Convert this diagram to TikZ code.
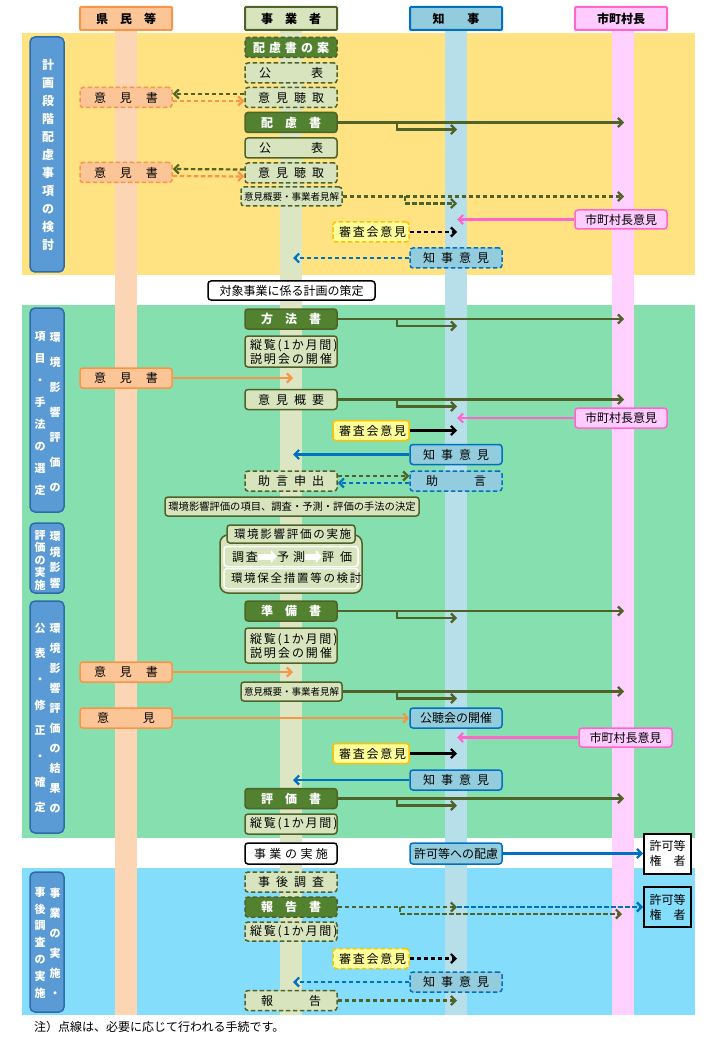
\documentclass[tikz,border=0pt]{standalone}
\usepackage{fontspec}
\setmainfont{Noto Sans CJK JP}
\usetikzlibrary{arrows.meta,calc}
\definecolor{olive}{HTML}{4F6228}
\definecolor{dkgreen}{HTML}{52822F}
\definecolor{ltgreen}{HTML}{D7E4BD}
\definecolor{orfill}{HTML}{FBC598}
\definecolor{orline}{HTML}{F79646}
\definecolor{blfill}{HTML}{93CDDD}
\definecolor{blline}{HTML}{0070C0}
\definecolor{pkfill}{HTML}{FFCCFF}
\definecolor{pkline}{HTML}{FF66CC}
\definecolor{ylfill}{HTML}{FFFF99}
\definecolor{ylline}{HTML}{FFC000}
\definecolor{sidefill}{HTML}{5B9BD5}
\definecolor{sideline}{HTML}{2E6BAA}
\definecolor{yband}{HTML}{FFE383}
\definecolor{gband}{HTML}{86DFAF}
\definecolor{bband}{HTML}{84DDFB}
\definecolor{orlane}{HTML}{FCD5B4}
\definecolor{gnlane}{HTML}{DCE6C2}
\definecolor{bllane}{HTML}{B7DFE9}
\definecolor{pklane}{HTML}{FFD1FF}
\newcommand{\sw}[2]{\makebox[#1][s]{#2}}
\tikzset{box/.style={draw,rounded corners=3pt,line width=1.5pt,inner sep=0pt,minimum width=92pt,minimum height=20pt,align=center,font=\fontsize{12}{14}\selectfont},dkbox/.style={box,fill=dkgreen,draw=olive,text=white,font=\bfseries\fontsize{12}{14}\selectfont},ltbox/.style={box,fill=ltgreen,draw=olive},orbox/.style={box,fill=orfill,draw=orline},blbox/.style={box,fill=blfill,draw=blline},pkbox/.style={box,fill=pkfill,draw=pkline},ylbox/.style={box,fill=ylfill,draw=ylline,minimum width=76pt},wtbox/.style={box,fill=white,draw=black},dsh/.style={dash pattern=on 4.5pt off 2.5pt},hdr/.style={draw,line width=2pt,inner sep=0pt,minimum width=92pt,minimum height=23pt,rounded corners=1pt,font=\bfseries\fontsize{12}{14}\selectfont},side/.style={draw=sideline,fill=sidefill,rounded corners=5pt,line width=1.5pt,minimum width=34pt},vtxt/.style={text=white,align=center,inner sep=0pt},arr/.style={line width=2.2pt,-{Straight Barb[length=4.5pt,width=9pt]}},garr/.style={arr,draw=olive},oarr/.style={arr,draw=orline},barr/.style={arr,draw=blline},parr/.style={arr,draw=pkline},karr/.style={arr,draw=black},warr/.style={draw=white,line width=6pt,-{Triangle[length=6pt,width=13pt]}},kenbox/.style={draw=black,line width=2pt,inner sep=0pt,minimum width=47pt,minimum height=40pt,align=center,font=\fontsize{12}{15}\selectfont}}

\begin{document}
\begin{tikzpicture}[x=1pt,y=-1pt]
\useasboundingbox (0,0) rectangle (720,1040);
% bands and lanes
\fill[yband] (22,33) rectangle (695,275);
\fill[gband] (22,305) rectangle (695,838);
\fill[bband] (22,868) rectangle (695,1015);
\fill[orlane] (115,30) rectangle (137,1015);
\fill[gnlane] (280,30) rectangle (302,1015);
\fill[bllane] (445,30) rectangle (467,1015);
\fill[pklane] (612,30) rectangle (634,1015);
\coordinate (biz) at (293,0);
\coordinate (gov) at (457,0);
\coordinate (city) at (624,0);
\coordinate (br) at (397,0);
% headers
\node[hdr,fill=orfill,draw=orline] (hken) at (126,18.5) {\sw{60pt}{県 民 等}};
\node[hdr,fill=ltgreen,draw=olive] (hjig) at (291,18.5) {\sw{60pt}{事 業 者}};
\node[hdr,fill=blfill,draw=blline] (hchi) at (456,18.5) {\sw{47pt}{知 事}};
\node[hdr,fill=pkfill,draw=pkline] (hshi) at (621,18.5) {市町村長};
% side labels
\node[side,minimum height=235pt] (s1) at (47,154.5) {};
\node[vtxt,font=\bfseries\fontsize{12}{18}\selectfont] (s1a) at (48,155) {計\\画\\段\\階\\配\\慮\\事\\項\\の\\検\\討};
\node[side,minimum height=204pt] (s2) at (47,410) {};
\node[vtxt,font=\bfseries\fontsize{11}{25}\selectfont] (s2a) at (55,412.5) {環\\境\\影\\響\\評\\価\\の};
\node[vtxt,font=\bfseries\fontsize{11}{21.9}\selectfont] (s2b) at (40,413.5) {項\\目\\・\\手\\法\\の\\選\\定};
\node[side,minimum height=70pt] (s3) at (47,558) {};
\node[vtxt,font=\bfseries\fontsize{11}{15.5}\selectfont] (s3a) at (55,560) {環\\境\\影\\響};
\node[vtxt,font=\bfseries\fontsize{11}{12.5}\selectfont] (s3b) at (40,560) {評\\価\\の\\実\\施};
\node[side,minimum height=232pt] (s4) at (47,717) {};
\node[vtxt,font=\bfseries\fontsize{11}{20}\selectfont] (s4a) at (55,718) {環\\境\\影\\響\\評\\価\\の\\結\\果\\の};
\node[vtxt,font=\bfseries\fontsize{11}{25.7}\selectfont] (s4b) at (40,718) {公\\表\\・\\修\\正\\・\\確\\定};
\node[side,minimum height=140pt] (s5) at (47,942) {};
\node[vtxt,font=\bfseries\fontsize{11}{20}\selectfont] (s5a) at (55,942.5) {事\\業\\の\\実\\施\\・};
\node[vtxt,font=\bfseries\fontsize{11}{16.8}\selectfont] (s5b) at (40,942.5) {事\\後\\調\\査\\の\\実\\施};
% hairyo
\node[dkbox,dsh] (pA) at (291,47.5) {\sw{76pt}{配 慮 書 の 案}};
\node[ltbox,dsh] (pB) at (291,73) {\sw{64pt}{公 表}};
\node[ltbox,dsh] (pC) at (291,97.5) {\sw{66pt}{意 見 聴 取}};
\node[dkbox] (pD) at (291,122.5) {\sw{60pt}{配 慮 書}};
\node[ltbox] (pE) at (291,148) {\sw{64pt}{公 表}};
\node[ltbox,dsh] (pF) at (291,173) {\sw{66pt}{意 見 聴 取}};
\node[ltbox,dsh,minimum width=101pt,minimum height=19pt,font=\fontsize{9.5}{11}\selectfont] (pG) at (291.5,196.5) {意見概要・事業者見解};
\node[orbox,dsh] (o1) at (126,97.5) {\sw{64pt}{意 見 書}};
\node[orbox,dsh] (o2) at (126,172.5) {\sw{64pt}{意 見 書}};
\node[pkbox,minimum height=19pt] (c1) at (621,219.5) {市町村長意見};
\node[ylbox,dsh] (y1) at (371,232) {\sw{64pt}{審 査 会 意 見}};
\node[blbox,dsh] (g1) at (456,258) {\sw{66pt}{知 事 意 見}};
\node[wtbox,minimum width=167pt,minimum height=19pt] (k1) at (291.5,290.5) {対象事業に係る計画の策定};
% hoho
\node[dkbox] (mA) at (291,319) {\sw{60pt}{方 法 書}};
\node[ltbox,minimum height=31pt] (mB) at (291,351.5) {\sw{82pt}{縦 覧 ( 1 か 月 間 )}\\\sw{82pt}{説 明 会 の 開 催}};
\node[orbox] (o3) at (126,378) {\sw{64pt}{意 見 書}};
\node[ltbox] (mC) at (291,399.5) {\sw{66pt}{意 見 概 要}};
\node[pkbox] (c2) at (621,418) {市町村長意見};
\node[ylbox] (y2) at (371,430.5) {\sw{64pt}{審 査 会 意 見}};
\node[blbox] (g2) at (456,454.5) {\sw{66pt}{知 事 意 見}};
\node[ltbox,dsh] (mD) at (291,481) {\sw{66pt}{助 言 申 出}};
\node[blbox,dsh] (g3) at (456,481) {\sw{60pt}{助 言}};
\node[ltbox,minimum width=254pt,minimum height=19pt,font=\fontsize{10.3}{12}\selectfont] (m1) at (292,506.5) {環境影響評価の項目、調査・予測・評価の手法の決定};
% jisshi
\node[draw=olive,fill=ltgreen,line width=1.5pt,rounded corners=8pt,minimum width=142pt,minimum height=58pt] (jf) at (291,564) {};
\node[ltbox,minimum width=128pt,minimum height=18pt,font=\fontsize{11.5}{13}\selectfont] (jA) at (291,534) {\sw{114pt}{環 境 影 響 評 価 の 実 施}};
\node[ltbox,draw=white,minimum width=134pt] (jB) at (291,556.5) {};
\node[inner sep=0pt,font=\fontsize{12}{14}\selectfont] (t1) at (245,556.5) {\sw{26pt}{調 査}};
\node[inner sep=0pt,font=\fontsize{12}{14}\selectfont] (t2) at (291,556.5) {\sw{28pt}{予 測}};
\node[inner sep=0pt,font=\fontsize{12}{14}\selectfont] (t3) at (337,556.5) {\sw{30pt}{評 価}};
\draw[warr] (t1.east) -- (t2.west);
\draw[warr] (t2.east) -- (t3.west);
\node[ltbox,draw=white,minimum width=134pt,font=\fontsize{11.5}{13}\selectfont] (jC) at (291,578.5) {\sw{120pt}{環 境 保 全 措 置 等 の 検 討}};
% junbi
\node[dkbox] (rA) at (291,611) {\sw{60pt}{準 備 書}};
\node[ltbox,minimum height=35pt] (rB) at (291,645.5) {\sw{82pt}{縦 覧 ( 1 か 月 間 )}\\\sw{82pt}{説 明 会 の 開 催}};
\node[orbox] (o4) at (126,672) {\sw{64pt}{意 見 書}};
\node[ltbox,minimum width=101pt,minimum height=19pt,font=\fontsize{9.5}{11}\selectfont] (rC) at (291.5,691.5) {意見概要・事業者見解};
\node[orbox] (o5) at (126,718) {\sw{58pt}{意 見}};
\node[blbox] (g4) at (456,718) {公聴会の開催};
\node[pkbox,minimum width=93pt,minimum height=19pt] (c3) at (625.5,737.5) {市町村長意見};
\node[ylbox] (y3) at (371,753.5) {\sw{64pt}{審 査 会 意 見}};
\node[blbox] (g5) at (456,780) {\sw{66pt}{知 事 意 見}};
\node[dkbox] (rD) at (291,798.5) {\sw{60pt}{評 価 書}};
\node[ltbox] (rE) at (291,824) {\sw{82pt}{縦 覧 ( 1 か 月 間 )}};
% shiko
\node[wtbox,minimum height=21pt] (e1) at (291,853.5) {\sw{74pt}{事 業 の 実 施}};
\node[blbox,minimum height=21pt] (g6) at (456,853.5) {許可等への配慮};
\node[kenbox,fill=white] (k2) at (667.5,853.5) {許可等\\\sw{36pt}{権 者}};
% jigo
\node[ltbox,dsh] (aA) at (291,882) {\sw{66pt}{事 後 調 査}};
\node[dkbox,dsh] (aB) at (291,907) {\sw{60pt}{報 告 書}};
\node[ltbox,dsh,minimum height=19pt] (aC) at (291,931.5) {\sw{82pt}{縦 覧 ( 1 か 月 間 )}};
\node[ylbox,dsh] (y4) at (371,958.5) {\sw{64pt}{審 査 会 意 見}};
\node[blbox,dsh] (g7) at (456,982) {\sw{66pt}{知 事 意 見}};
\node[ltbox,dsh] (aD) at (291,1000.5) {\sw{60pt}{報 告}};
\node[kenbox,fill=bband] (k3) at (667.5,907) {許可等\\\sw{36pt}{権 者}};
\node[anchor=west,inner sep=0pt,font=\fontsize{12}{14}\selectfont] (note) at (34,1027) {注）点線は、必要に応じて行われる手続です。};
% connectors
\foreach \n in {pD,mA,mC,rA,rC,rD} {
  \draw[garr] (\n.east) -- (\n.east -| city);
  \draw[garr] (\n.east -| br) |- ($(\n.east -| gov)+(0,7)$);
}
\draw[garr,dsh] ($(pC.west)+(0,-3.5)$) -- ($(o1.east)+(0,-3.5)$);
\draw[oarr,dsh] ($(o1.east)+(0,3.5)$) -- ($(pC.west)+(0,3.5)$);
\draw[garr,dsh] ($(pF.west)+(0,-3.5)$) -- ($(o2.east)+(0,-3.5)$);
\draw[oarr,dsh] ($(o2.east)+(0,3.5)$) -- ($(pF.west)+(0,3.5)$);
\draw[garr,dsh] (pG.east) -- (pG.east -| city);
\draw[garr,dsh] ($(pG.east -| br)+(8,0)$) |- ($(pG.east -| gov)+(0,7)$);
\draw[parr] (c1.west) -- (c1.west -| gov);
\draw[karr,dsh] (y1.east) -- (y1.east -| gov);
\draw[barr,dsh] (g1.west) -- (g1.west -| biz);
\draw[oarr] (o3.east) -- (o3.east -| biz);
\draw[parr] (c2.west) -- (c2.west -| gov);
\draw[karr] (y2.east) -- (y2.east -| gov);
\draw[barr] (g2.west) -- (g2.west -| biz);
\draw[garr,dsh] ($(mD.east)+(0,-5)$) -- ($(g3.west)+(0,-5)$);
\draw[barr,dsh] ($(g3.west)+(0,2)$) -- ($(mD.east)+(0,2)$);
\draw[oarr] (o4.east) -- (o4.east -| biz);
\draw[oarr] (o5.east) -- (g4.west);
\draw[parr] (c3.west) -- (c3.west -| gov);
\draw[karr] (y3.east) -- (y3.east -| gov);
\draw[barr] (g5.west) -- (g5.west -| biz);
\draw[barr] (g6.east) -- (k2.west);
\draw[garr,dsh] (aB.east) -- (aB.east -| gov);
\draw[barr,dsh] (aB.east -| gov) -- (k3.west);
\draw[garr,dsh] ($(aB.east -| br)+(3,0)$) |- ($(aB.east -| city)+(-2,7)$);
\draw[karr,dsh] (y4.east) -- (y4.east -| gov);
\draw[barr,dsh] (g7.west) -- (g7.west -| biz);
\draw[garr,dsh] (aD.east) -- (aD.east -| gov);
\end{tikzpicture}
\end{document}
